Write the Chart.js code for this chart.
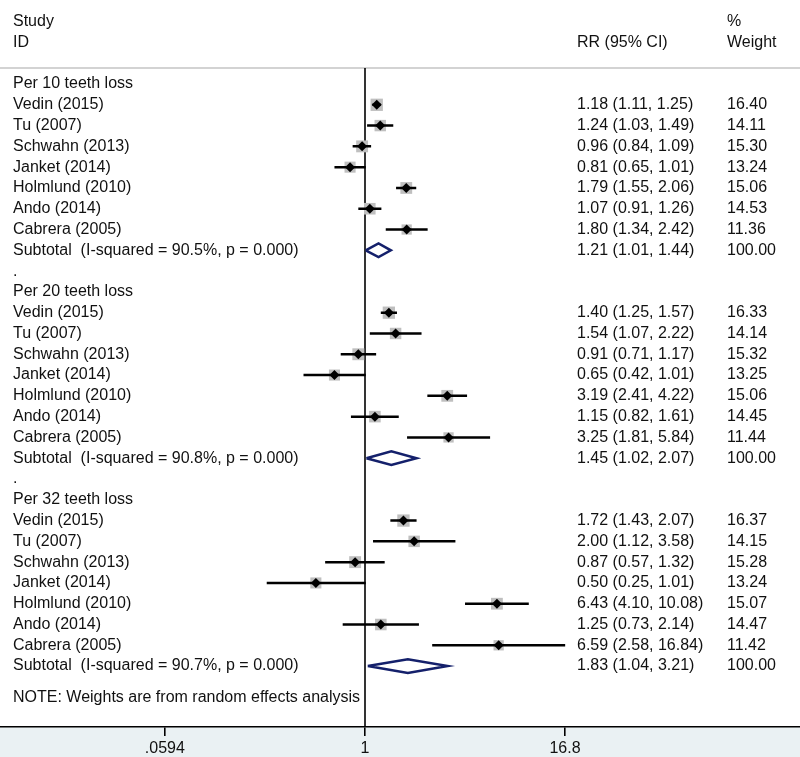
<!DOCTYPE html>
<html>
<head>
<meta charset="utf-8">
<script src="https://cdn.jsdelivr.net/npm/chart.js@4/dist/chart.umd.min.js"></script>
<style>
  body { margin: 0; background: #fff; }
  #forest { display: block; }
</style>
</head>
<body>
<canvas id="forest" width="800" height="757"></canvas>
<script>
// Forest plot: teeth loss and risk (RR, random effects)

const groupTitles = ['Per 10 teeth loss', 'Per 20 teeth loss', 'Per 32 teeth loss'];
const studies = ['Vedin (2015)', 'Tu (2007)', 'Schwahn (2013)', 'Janket (2014)',
                 'Holmlund (2010)', 'Ando (2014)', 'Cabrera (2005)'];

// per 10 teeth
const rr10 = [1.18, 1.24, 0.96, 0.81, 1.79, 1.07, 1.80];
const lo10 = [1.11, 1.03, 0.84, 0.65, 1.55, 0.91, 1.34];
const hi10 = [1.25, 1.49, 1.09, 1.01, 2.06, 1.26, 2.42];
const wt10 = [16.40, 14.11, 15.30, 13.24, 15.06, 14.53, 11.36];

// per 20 teeth
const rr20 = [1.40, 1.54, 0.91, 0.65, 3.19, 1.15, 3.25];
const lo20 = [1.25, 1.07, 0.71, 0.42, 2.41, 0.82, 1.81];
const hi20 = [1.57, 2.22, 1.17, 1.01, 4.22, 1.61, 5.84];
const wt20 = [16.33, 14.14, 15.32, 13.25, 15.06, 14.45, 11.44];

// per 32 teeth
const rr32 = [1.72, 2.00, 0.87, 0.50, 6.43, 1.25, 6.59];
const lo32 = [1.43, 1.12, 0.57, 0.25, 4.10, 0.73, 2.58];
const hi32 = [2.07, 3.58, 1.32, 1.01, 10.08, 2.14, 16.84];
const wt32 = [16.37, 14.15, 15.28, 13.24, 15.07, 14.47, 11.42];

// subtotals
const subRR = [1.21, 1.45, 1.83];
const subLo = [1.01, 1.02, 1.04];
const subHi = [1.44, 2.07, 3.21];
const subI2 = ['90.5', '90.8', '90.7'];
const subP = ['0.000', '0.000', '0.000'];

const xTicks = [0.0594, 1, 16.8];
const noteText = 'NOTE: Weights are from random effects analysis';

const groups = [
    { rr: rr10, lo: lo10, hi: hi10, wt: wt10 },
    { rr: rr20, lo: lo20, hi: hi20, wt: wt20 },
    { rr: rr32, lo: lo32, hi: hi32, wt: wt32 }
];

// layout
const FAMILY = '"Liberation Sans", Arial, sans-serif';
const FONT = '16px ' + FAMILY;
const COL_LEFT = 13, COL_RR = 577, COL_WT = 727;
const ROWS_PER_GROUP = 10;
const DIAMOND_HALF = 0.33;
// log axis: the 3 tick values sit 200px apart, null line at x = 365
const pxPerLog = 200 / Math.log10(16.8);
const xMin = Math.pow(10, -365 / pxPerLog);
const xMax = Math.pow(10, (800 - 365) / pxPerLog);

function fmt(v) { return v.toFixed(2); }

// build rows
const squares = [], points = [], ciLines = [], diamonds = [], textRows = [];
groups.forEach(function(g, gi) {
    const base = gi * ROWS_PER_GROUP;
    textRows.push({ row: base, left: groupTitles[gi] });
    studies.forEach(function(name, i) {
        const row = base + 1 + i;
        squares.push({ x: g.rr[i], y: row, w: g.wt[i] });
        points.push({ x: g.rr[i], y: row });
        ciLines.push({ x: g.lo[i], y: row }, { x: g.hi[i], y: row }, { x: null, y: null });
        textRows.push({
            row: row, left: name,
            rr: fmt(g.rr[i]) + ' (' + fmt(g.lo[i]) + ', ' + fmt(g.hi[i]) + ')',
            wt: fmt(g.wt[i])
        });
    });
    const srow = base + 8;
    diamonds.push(
        { x: subLo[gi], y: srow },
        { x: subRR[gi], y: srow - DIAMOND_HALF },
        { x: subHi[gi], y: srow },
        { x: subRR[gi], y: srow + DIAMOND_HALF },
        { x: subLo[gi], y: srow },
        { x: null, y: null }
    );
    textRows.push({
        row: srow,
        left: 'Subtotal  (I-squared = ' + subI2[gi] + '%, p = ' + subP[gi] + ')',
        rr: fmt(subRR[gi]) + ' (' + fmt(subLo[gi]) + ', ' + fmt(subHi[gi]) + ')',
        wt: '100.00'
    });
    if (gi < groups.length - 1) textRows.push({ row: base + 9, left: '.' });
});

const decorPlugin = {
    id: 'forestDecor',
    beforeDraw: function(chart) {
        const ctx = chart.ctx, area = chart.chartArea;
        ctx.save();
        ctx.fillStyle = '#eaf1f3';
        ctx.fillRect(0, area.bottom, chart.width, chart.height - area.bottom);
        ctx.strokeStyle = '#c4c4c4';
        ctx.lineWidth = 1.5;
        ctx.beginPath();
        ctx.moveTo(0, area.top);
        ctx.lineTo(chart.width, area.top);
        ctx.stroke();
        // null line at RR = 1
        const x1 = chart.scales.x.getPixelForValue(1);
        ctx.strokeStyle = '#000';
        ctx.lineWidth = 1.6;
        ctx.beginPath();
        ctx.moveTo(x1, area.top);
        ctx.lineTo(x1, area.bottom);
        ctx.stroke();
        ctx.restore();
    },
    afterDraw: function(chart) {
        const ctx = chart.ctx, ys = chart.scales.y;
        ctx.save();
        ctx.font = FONT;
        ctx.fillStyle = '#111';
        ctx.textBaseline = 'middle';
        function put(text, x, row) {
            ctx.fillText(text, x, ys.getPixelForValue(row));
        }
        // header
        put('Study', COL_LEFT, -3);
        put('ID', COL_LEFT, -2);
        put('RR (95% CI)', COL_RR, -2);
        put('%', COL_WT, -3);
        put('Weight', COL_WT, -2);
        textRows.forEach(function(r) {
            put(r.left, COL_LEFT, r.row);
            if (r.rr) put(r.rr, COL_RR, r.row);
            if (r.wt) put(r.wt, COL_WT, r.row);
        });
        put(noteText, COL_LEFT, 29.5);
        ctx.restore();
    }
};

const ctx = document.getElementById('forest').getContext('2d');
new Chart(ctx, {
    type: 'scatter',
    data: {
        datasets: [
            {
                label: 'RR',
                data: points,
                pointStyle: 'rectRot',
                pointRadius: 5,
                backgroundColor: '#000',
                borderWidth: 0,
                order: 0
            },
            {
                label: 'CI',
                data: ciLines,
                showLine: true,
                spanGaps: false,
                pointRadius: 0,
                borderColor: '#000',
                borderWidth: 2.5,
                order: 1
            },
            {
                label: 'Subtotal',
                data: diamonds,
                showLine: true,
                spanGaps: false,
                pointRadius: 0,
                borderColor: '#14206b',
                borderWidth: 2.5,
                borderJoinStyle: 'miter',
                order: 1
            },
            {
                label: 'Weight',
                data: squares,
                pointStyle: 'rect',
                pointRadius: squares.map(function(s) { return 2.15 * Math.sqrt(s.w); }),
                backgroundColor: '#bfbfbf',
                borderWidth: 0,
                order: 2
            }
        ]
    },
    options: {
        responsive: false,
        animation: false,
        layout: { autoPadding: false, padding: { top: 68, left: 0, right: 0, bottom: 0 } },
        plugins: {
            legend: { display: false },
            tooltip: { enabled: false }
        },
        events: [],
        scales: {
            x: {
                type: 'logarithmic',
                min: xMin,
                max: xMax,
                afterBuildTicks: function(scale) {
                    scale.ticks = xTicks.map(function(v) { return { value: v }; });
                },
                afterFit: function(scale) {
                    scale.height = 30;
                    scale.paddingLeft = 0;
                    scale.paddingRight = 0;
                },
                border: { display: true, color: '#000', width: 1.6 },
                grid: {
                    drawOnChartArea: false,
                    drawTicks: true,
                    tickLength: 9,
                    color: '#000',
                    lineWidth: 1.6
                },
                ticks: {
                    autoSkip: false,
                    maxRotation: 0,
                    padding: 3,
                    color: '#111',
                    font: { family: FAMILY, size: 16 },
                    callback: function(value) {
                        return value < 1 ? String(value).replace(/^0/, '') : String(value);
                    }
                }
            },
            y: {
                type: 'linear',
                display: false,
                reverse: true,
                min: -0.77,
                max: 30.93
            }
        }
    },
    plugins: [decorPlugin]
});
</script>
</body>
</html>
